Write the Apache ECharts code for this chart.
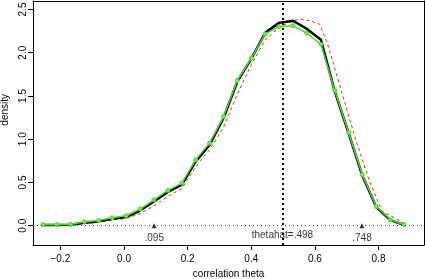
<!DOCTYPE html>
<html>
<head>
<meta charset="utf-8">
<script src="https://cdn.jsdelivr.net/npm/echarts@6/dist/echarts.min.js"></script>
<style>
html,body{margin:0;padding:0;background:#fff;}
#chart{width:425px;height:279px;}
</style>
</head>
<body>
<div id="chart"></div>
<script>
// grid of theta values where the bootstrap densities were evaluated
var thetaGrid = [-0.255, -0.211, -0.168, -0.124, -0.080, -0.037, 0.007, 0.051, 0.094, 0.138,
                 0.182, 0.225, 0.269, 0.313, 0.356, 0.400, 0.444, 0.487, 0.531, 0.575,
                 0.619, 0.662, 0.706, 0.749, 0.793, 0.837, 0.880];
var greenDensity = [0.012, 0.012, 0.015, 0.046, 0.061, 0.092, 0.115, 0.193, 0.300, 0.408,
                    0.493, 0.762, 0.955, 1.262, 1.678, 1.936, 2.217, 2.301, 2.313, 2.225,
                    2.098, 1.567, 1.077, 0.589, 0.223, 0.069, 0.012];
var blackDensity = [0.008, 0.008, 0.010, 0.035, 0.050, 0.080, 0.100, 0.175, 0.280, 0.390,
                    0.475, 0.740, 0.935, 1.245, 1.665, 1.930, 2.230, 2.345, 2.370, 2.275,
                    2.150, 1.560, 1.070, 0.580, 0.215, 0.065, 0.010];
var redTheta = [-0.255, -0.211, -0.168, -0.124, -0.080, -0.037, 0.007, 0.051, 0.094, 0.138,
                0.182, 0.225, 0.269, 0.313, 0.356, 0.400, 0.444, 0.487, 0.531, 0.553,
                0.584, 0.615, 0.640, 0.684, 0.728, 0.771, 0.811, 0.850, 0.885];
var redDensity = [0.004, 0.005, 0.007, 0.025, 0.040, 0.065, 0.085, 0.140, 0.230, 0.340,
                  0.430, 0.680, 0.880, 1.140, 1.520, 1.860, 2.150, 2.290, 2.370, 2.390,
                  2.370, 2.330, 2.100, 1.550, 1.000, 0.520, 0.170, 0.090, 0.020];
var xTicks = [-0.2, 0.0, 0.2, 0.4, 0.6, 0.8];
var yTicks = [0.0, 0.5, 1.0, 1.5, 2.0, 2.5];
var markerTheta = [0.095, 0.748];
var markerText = ['.095', '.748'];
var thetaHat = 0.498;
var thetaHatText = 'thetahat=.498';
var xTitle = 'correlation theta';
var yTitle = 'density';

function zip(a, b) { return a.map(function (v, i) { return [v, b[i]]; }); }
function fmt(v) {
  var s = Math.abs(v).toFixed(1);
  return v < 0 ? '\u2212' + s : s;
}
var font = '"Liberation Sans", Arial, Helvetica, sans-serif';
var XMIN = -0.286, XMAX = 0.943, YMIN = -0.223, YMAX = 2.598;

var markerData = markerTheta.map(function (t, i) {
  return { value: [t, 0], label: { formatter: markerText[i] } };
});
markerData.push({ value: [thetaHat, 0], symbolSize: 0, label: { formatter: thetaHatText } });

var frameAxis = { show: true, onZero: false, lineStyle: { color: '#000', width: 1 } };

var chart = echarts.init(document.getElementById('chart'), null, { renderer: 'canvas' });
chart.setOption({
  animation: false,
  backgroundColor: '#fff',
  grid: { left: 33, right: 1, top: 1, bottom: 34, outerBoundsMode: 'none' },
  graphic: [{
    type: 'text', left: 0, top: 94, rotation: Math.PI / 2,
    style: { text: yTitle, fill: '#000', font: '10px ' + font }
  }],
  xAxis: [{
    type: 'value', min: XMIN, max: XMAX, position: 'bottom',
    name: xTitle, nameLocation: 'middle', nameGap: 21,
    nameTextStyle: { fontFamily: font, fontSize: 10, color: '#000' },
    axisLine: frameAxis,
    axisTick: { show: true, inside: false, length: 5, lineStyle: { color: '#000' }, customValues: xTicks },
    axisLabel: { show: true, margin: 9, fontFamily: font, fontSize: 10, color: '#000', customValues: xTicks, formatter: fmt },
    splitLine: { show: false }
  }, {
    type: 'value', min: XMIN, max: XMAX, position: 'top',
    axisLine: frameAxis, axisTick: { show: false }, axisLabel: { show: false }, splitLine: { show: false }
  }],
  yAxis: [{
    type: 'value', min: YMIN, max: YMAX, position: 'left',
    axisLine: frameAxis,
    axisTick: { show: true, inside: false, length: 5, lineStyle: { color: '#000' }, customValues: yTicks },
    axisLabel: { show: true, rotate: 90, margin: 5, fontFamily: font, fontSize: 10, color: '#000', customValues: yTicks, formatter: function (v) { return v.toFixed(1); } },
    splitLine: { show: false }
  }, {
    type: 'value', min: YMIN, max: YMAX, position: 'right',
    axisLine: frameAxis, axisTick: { show: false }, axisLabel: { show: false }, splitLine: { show: false }
  }],
  series: [
    {
      type: 'line', data: zip(redTheta, redDensity), showSymbol: false, symbol: 'none',
      lineStyle: { color: '#ff2020', width: 1, type: [3, 3] }, z: 2
    },
    {
      type: 'line', data: zip(thetaGrid, blackDensity), showSymbol: false, symbol: 'none',
      lineStyle: { color: '#000', width: 2.5 }, z: 3,
      markLine: {
        silent: true, symbol: ['none', 'none'], label: { show: false },
        data: [
          { xAxis: thetaHat, lineStyle: { color: '#000', width: 2, type: [2, 3] } },
          { yAxis: 0, lineStyle: { color: '#444', width: 1, type: [1, 3] } }
        ]
      }
    },
    {
      type: 'line', data: zip(thetaGrid, greenDensity), symbol: 'circle', symbolSize: 4, showSymbol: true,
      itemStyle: { color: '#77e855', borderColor: '#44dd22', borderWidth: 1 },
      lineStyle: { color: '#44dd22', width: 1.5 }, z: 4
    },
    {
      type: 'scatter', data: markerData, symbol: 'triangle', symbolSize: 5,
      itemStyle: { color: '#000' }, z: 5,
      label: { show: true, position: 'bottom', distance: 5, fontFamily: font, fontSize: 10, color: '#000' }
    }
  ]
});
</script>
</body>
</html>
